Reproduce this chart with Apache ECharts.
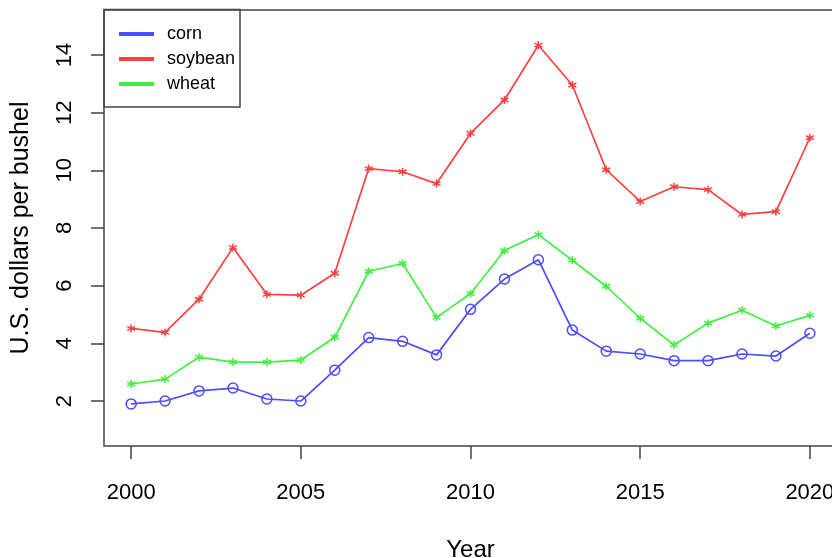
<!DOCTYPE html>
<html>
<head>
<meta charset="utf-8">
<script src="https://cdn.jsdelivr.net/npm/echarts@6/dist/echarts.min.js"></script>
<style>html,body{margin:0;padding:0;background:#fff}#c{width:832px;height:558px}</style>
</head>
<body>
<div id="c"></div>
<script>
const years = [2000,2001,2002,2003,2004,2005,2006,2007,2008,2009,2010,2011,2012,2013,2014,2015,2016,2017,2018,2019,2020];
const corn = [1.90,2.00,2.35,2.45,2.07,2.00,3.07,4.20,4.07,3.60,5.18,6.23,6.90,4.46,3.73,3.63,3.40,3.40,3.63,3.56,4.35];
const soybean = [4.52,4.38,5.53,7.32,5.70,5.67,6.43,10.06,9.95,9.54,11.28,12.44,14.34,12.96,10.02,8.92,9.43,9.33,8.47,8.57,11.13];
const wheat = [2.59,2.76,3.52,3.35,3.35,3.42,4.21,6.50,6.77,4.90,5.72,7.22,7.77,6.88,5.98,4.87,3.94,4.70,5.15,4.60,4.97];
const xTicks = [2000,2005,2010,2015,2020];
const yTicks = [2,4,6,8,10,12,14];
const seriesNames = ['corn','soybean','wheat'];
const colors = ['#4d4dff','#ff4040','#40f040'];

const pair = arr => years.map((y,i)=>[y,arr[i]]);
const star = 'path://M0,-5L0,5M-4.3,-2.5L4.3,2.5M-4.3,2.5L4.3,-2.5';
const font = '"Liberation Sans",Arial,sans-serif';

const chart = echarts.init(document.getElementById('c'), null, {renderer:'canvas'});
chart.setOption({
  animation:false,
  backgroundColor:'#fff',
  grid:{left:104,top:10,right:-5,bottom:112,containLabel:false,outerBoundsMode:'none',
        show:true,borderColor:'#444',borderWidth:1.5,backgroundColor:'transparent'},
  xAxis:{
    type:'value',min:1999.2,max:2020.8,
    name:'Year',nameLocation:'middle',nameGap:92,
    nameTextStyle:{fontFamily:font,fontSize:24,color:'#000'},
    axisLine:{show:false},
    splitLine:{show:false},
    axisTick:{show:true,inside:false,length:13,lineStyle:{color:'#444',width:1.5},customValues:xTicks},
    axisLabel:{fontFamily:font,fontSize:22,color:'#000',margin:36,customValues:xTicks,formatter:v=>String(v)}
  },
  yAxis:{
    type:'value',min:0.44,max:15.56,
    name:'U.S. dollars per bushel',nameLocation:'middle',nameGap:70,nameRotate:90,
    nameTextStyle:{fontFamily:font,fontSize:25,color:'#000'},
    axisLine:{show:false},
    splitLine:{show:false},
    axisTick:{show:true,inside:false,length:13,lineStyle:{color:'#444',width:1.5},customValues:yTicks},
    axisLabel:{fontFamily:font,fontSize:22,color:'#000',margin:28,rotate:90,customValues:yTicks,formatter:v=>String(v)}
  },
  legend:{
    orient:'vertical',left:119,top:24,padding:0,
    itemWidth:33,itemHeight:2,itemGap:5,icon:'rect',
    textStyle:{fontFamily:font,fontSize:18,color:'#000',lineHeight:20,padding:[0,0,0,9]},
    data:seriesNames
  },
  graphic:[{type:'rect',z:-1,shape:{x:104,y:9.5,width:136,height:97.5},style:{fill:'#fff',stroke:'#444',lineWidth:1.5}}],
  series:[
    {name:seriesNames[0],type:'line',data:pair(corn),color:colors[0],symbol:'circle',symbolSize:10,
     lineStyle:{width:1.7,color:colors[0]},itemStyle:{color:'rgba(0,0,0,0)',borderColor:colors[0],borderWidth:1.5}},
    {name:seriesNames[1],type:'line',data:pair(soybean),color:colors[1],symbol:star,symbolSize:8,
     lineStyle:{width:1.7,color:colors[1]},itemStyle:{color:colors[1],borderColor:colors[1],borderWidth:1.5}},
    {name:seriesNames[2],type:'line',data:pair(wheat),color:colors[2],symbol:star,symbolSize:8,
     lineStyle:{width:1.7,color:colors[2]},itemStyle:{color:colors[2],borderColor:colors[2],borderWidth:1.5}}
  ]
});
</script>
</body>
</html>
